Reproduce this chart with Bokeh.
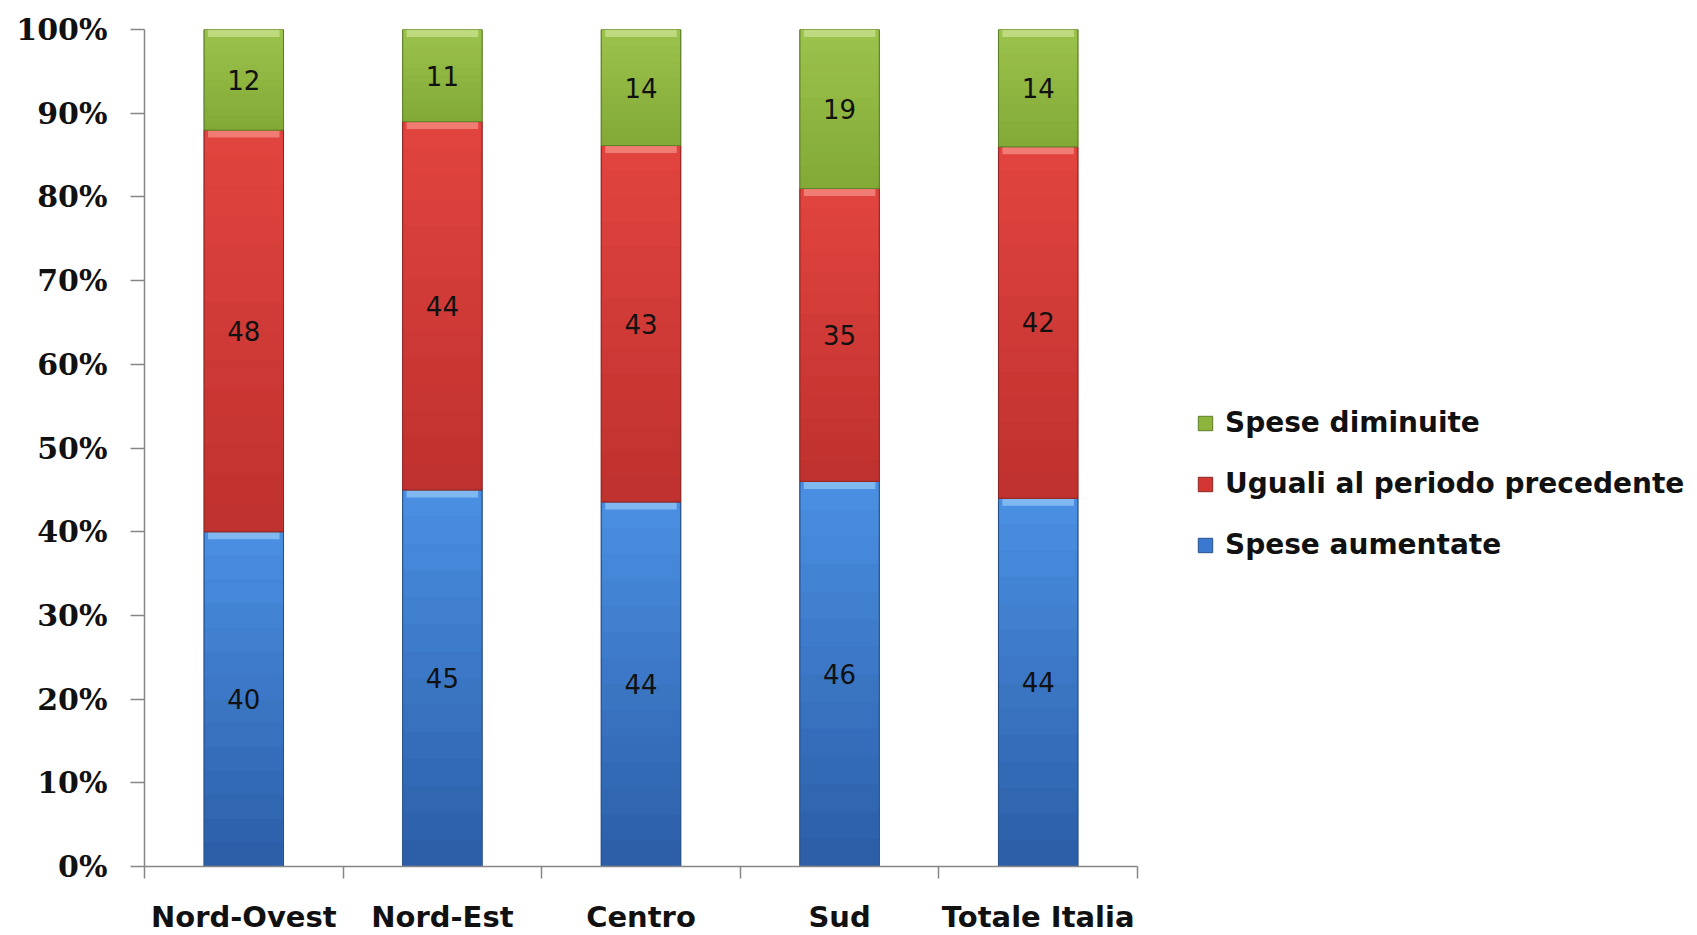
from bokeh.plotting import figure
from bokeh.models import ColumnDataSource, FixedTicker, Legend, LegendItem, Range1d, LabelSet
from bokeh.embed import file_html
from bokeh.resources import INLINE
from bokeh.core.properties import value

# ---- data ----
categories = ["Nord-Ovest", "Nord-Est", "Centro", "Sud", "Totale Italia"]
series_names = ["Spese aumentate", "Uguali al periodo precedente", "Spese diminuite"]
spese_aumentate = [40, 45, 44, 46, 44]
uguali_periodo = [48, 44, 43, 35, 42]
spese_diminuite = [12, 11, 14, 19, 14]
y_ticks = [0, 10, 20, 30, 40, 50, 60, 70, 80, 90, 100]
y_tick_labels = ["0%", "10%", "20%", "30%", "40%", "50%", "60%", "70%", "80%", "90%", "100%"]

# styles
colors = ["#3A79CF", "#D43733", "#8DB43D"]
top_colors = ["#4B90E3", "#E2443F", "#9CC34C"]
bottom_colors = ["#2B5DA6", "#BE312E", "#82A936"]
light_colors = ["#80B9F2", "#F07C74", "#BFDA7E"]
line_colors = ["#274F8A", "#8E2523", "#5E7D27"]


def hex2rgb(h):
    h = h.lstrip("#")
    return [int(h[i:i + 2], 16) for i in (0, 2, 4)]


def mix(c1, c2, t):
    a, b = hex2rgb(c1), hex2rgb(c2)
    return "#%02x%02x%02x" % tuple(int(round(a[i] + (b[i] - a[i]) * t)) for i in range(3))


series = [spese_aumentate, uguali_periodo, spese_diminuite]
n = len(categories)
xs = [i + 0.5 for i in range(n)]
totals = [sum(s[i] for s in series) for i in range(n)]

p = figure(frame_width=993, frame_height=837,
           x_range=Range1d(0, n), y_range=Range1d(0, 100),
           output_backend="svg", toolbar_location=None,
           min_border_left=144, min_border_top=29, min_border_bottom=60,
           min_border_right=520)
p.grid.visible = False
p.outline_line_color = None
p.background_fill_color = "white"
p.border_fill_color = "white"

BANDS = 14
renderers = []
cum = [0.0] * n
for k, s in enumerate(series):
    pct = [100.0 * s[i] / totals[i] for i in range(n)]
    bottom = cum[:]
    top = [bottom[i] + pct[i] for i in range(n)]
    mid = [(bottom[i] + top[i]) / 2 for i in range(n)]
    src = ColumnDataSource(dict(x=xs, bottom=bottom, top=top, mid=mid,
                                hlb=[t - 0.9 for t in top],
                                lab=[str(v) for v in s]))
    r = p.vbar(x="x", bottom="bottom", top="top", width=0.40, source=src,
               fill_color=colors[k], line_color=line_colors[k], line_width=1)
    renderers.append(r)
    # vertical shading bands
    bx, bb, bt, bc = [], [], [], []
    for i in range(n):
        for j in range(BANDS):
            bx.append(xs[i])
            bb.append(bottom[i] + pct[i] * j / BANDS)
            bt.append(bottom[i] + pct[i] * (j + 1) / BANDS)
            bc.append(mix(bottom_colors[k], top_colors[k], (j + 0.5) / BANDS))
    bsrc = ColumnDataSource(dict(x=bx, b=bb, t=bt, c=bc))
    p.vbar(x="x", bottom="b", top="t", width=0.392, source=bsrc,
           fill_color="c", line_color="c", line_width=0.6)
    # top bevel highlight
    p.vbar(x="x", bottom="hlb", top="top", width=0.36, source=src,
           fill_color=light_colors[k], line_color=None)
    # outline
    p.vbar(x="x", bottom="bottom", top="top", width=0.40, source=src,
           fill_alpha=0, line_color=line_colors[k], line_width=1, line_alpha=0.8)
    labels = LabelSet(x="x", y="mid", text="lab", source=src,
                      text_align="center", text_baseline="middle",
                      text_font=value("DejaVu Sans"), text_font_size="26px",
                      text_color="#111111")
    p.add_layout(labels)
    cum = top

# y axis
ya = p.yaxis[0]
ya.ticker = FixedTicker(ticks=y_ticks)
ya.major_label_overrides = {t: l for t, l in zip(y_ticks, y_tick_labels)}
ya.major_label_text_font = "DejaVu Serif"
ya.major_label_text_font_style = "bold"
ya.major_label_text_font_size = "30px"
ya.major_label_text_color = "#111111"
ya.major_tick_out = 14
ya.major_tick_in = 0
ya.minor_tick_line_color = None
ya.major_label_standoff = 23
ya.axis_line_color = "#868686"
ya.axis_line_width = 1.5
ya.major_tick_line_color = "#868686"
ya.major_tick_line_width = 1.5

# x axis
xa = p.xaxis[0]
xa.ticker = FixedTicker(ticks=xs, minor_ticks=list(range(n + 1)))
xa.major_label_overrides = {x: c for x, c in zip(xs, categories)}
xa.major_label_text_font = "DejaVu Sans"
xa.major_label_text_font_style = "bold"
xa.major_label_text_font_size = "29px"
xa.major_label_text_color = "#111111"
xa.major_tick_line_color = None
xa.major_tick_out = 12
xa.major_tick_in = 0
xa.minor_tick_out = 12
xa.minor_tick_in = 0
xa.minor_tick_line_color = "#868686"
xa.minor_tick_line_width = 1.5
xa.major_label_standoff = 21
xa.axis_line_color = "#868686"
xa.axis_line_width = 1.5

legend = Legend(items=[LegendItem(label=series_names[k], renderers=[renderers[k]]) for k in (2, 1, 0)],
                location=(59, 305))
legend.label_text_font = "DejaVu Sans"
legend.label_text_font_style = "bold"
legend.label_text_font_size = "28px"
legend.label_text_color = "#111111"
legend.glyph_width = 18
legend.glyph_height = 18
legend.spacing = 28
legend.label_standoff = 11
legend.border_line_color = None
legend.background_fill_alpha = 0
p.add_layout(legend, "right")

open("out.html", "w").write(file_html(p, INLINE))
